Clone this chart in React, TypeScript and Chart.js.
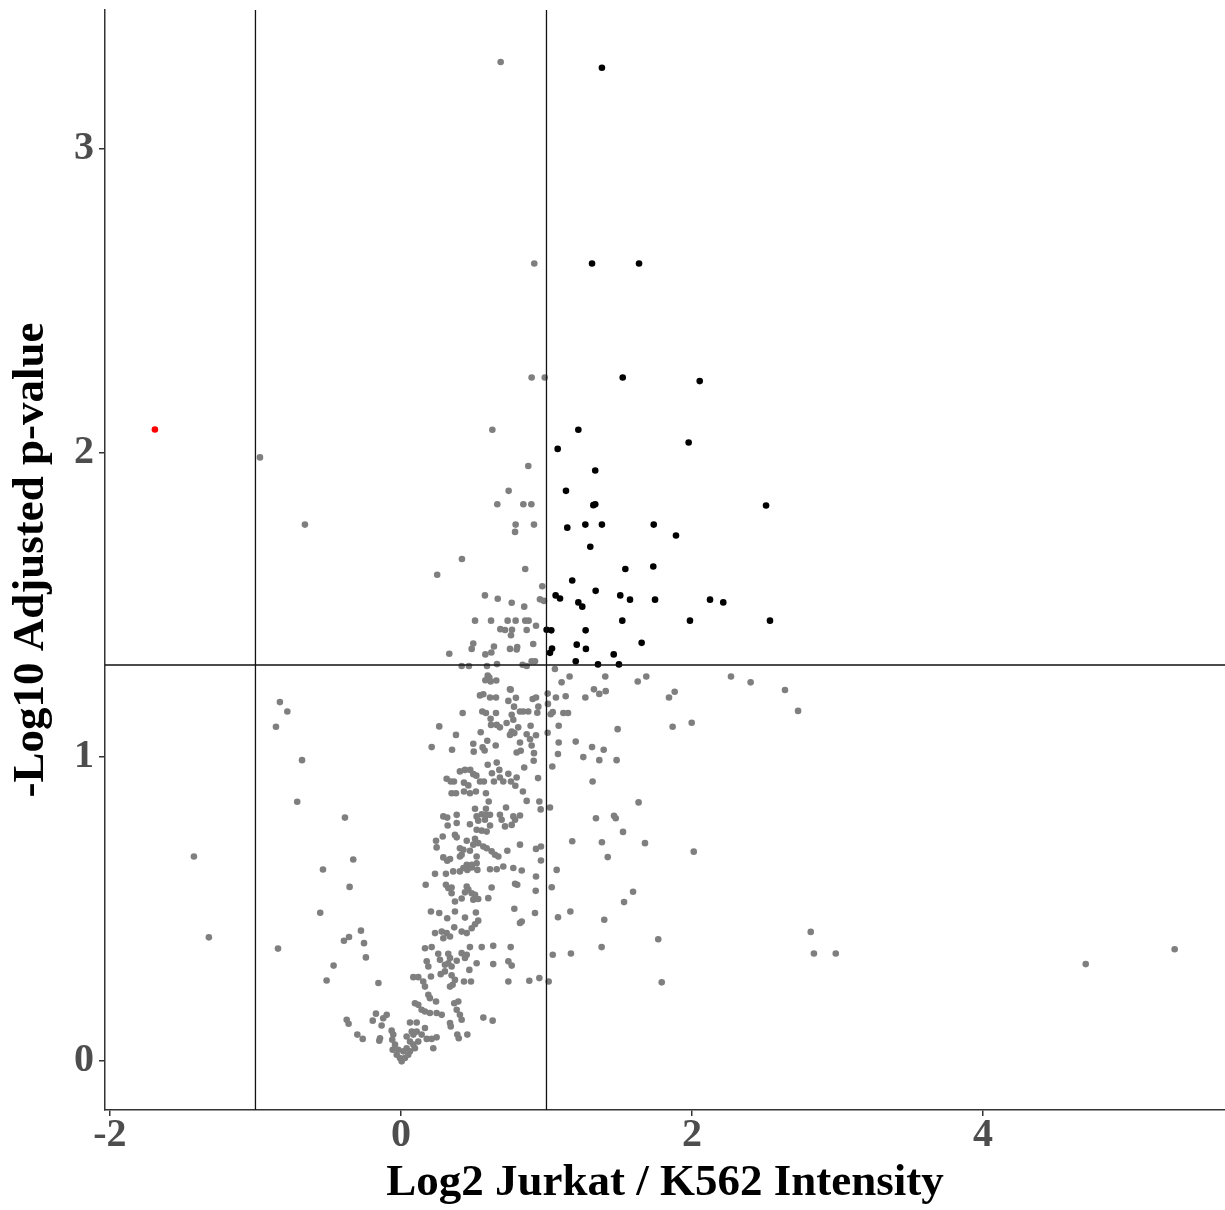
import React, { useEffect, useRef } from "react";
import { Chart, registerables } from "chart.js";

Chart.register(...registerables);

// Axis settings
const xTickValues = [-2, 0, 2, 4];
const yTickValues = [0, 1, 2, 3];
const xRange = [-2.034, 5.663];
const yRange = [-0.163, 3.456];
const foldChangeCutoffs = [-1, 1];
const pValueCutoff = 1.301; // -log10(0.05)

const xTitle = "Log2 Jurkat / K562 Intensity";
const yTitle = "-Log10 Adjusted p-value";

// Significantly down (red)
const downPoints: [number, number][] = [[-1.691, 2.076]];

// Significantly up (black)
const upPoints: [number, number][] = [
  [1.381, 3.266], [1.313, 2.622], [1.636, 2.622], [1.524, 2.247], [2.053, 2.235],
  [1.219, 2.075], [1.977, 2.033], [1.077, 2.012], [1.335, 1.941], [1.134, 1.874],
  [1.322, 1.827], [1.335, 1.830], [2.509, 1.826], [1.143, 1.753], [1.267, 1.763],
  [1.381, 1.763], [1.737, 1.763], [1.890, 1.727], [1.301, 1.690], [1.542, 1.617],
  [1.734, 1.625], [1.177, 1.579], [1.338, 1.545], [1.063, 1.530], [1.093, 1.520],
  [1.507, 1.530], [1.574, 1.516], [1.746, 1.516], [2.124, 1.516], [2.215, 1.507],
  [1.219, 1.507], [1.246, 1.493], [1.521, 1.447], [1.986, 1.447], [2.536, 1.447],
  [1.001, 1.417], [1.033, 1.415], [1.269, 1.415], [1.654, 1.374], [1.208, 1.368],
  [1.271, 1.354], [1.038, 1.355], [1.024, 1.341], [1.462, 1.336], [1.201, 1.313],
  [1.354, 1.303], [1.498, 1.303],
];

// Not significant (grey)
const nsPoints: [number, number][] = [
  [0.685, 3.285], [0.916, 2.622], [0.898, 2.247], [0.988, 2.247], [0.628, 2.075], [-0.969, 1.984], [-0.660, 1.763],
  [0.875, 1.956], [0.740, 1.874], [0.662, 1.830], [0.841, 1.830], [0.896, 1.830], [0.788, 1.763], [0.784, 1.739],
  [0.914, 1.763], [0.419, 1.650], [0.854, 1.617], [0.249, 1.598], [0.971, 1.560], [0.577, 1.530], [0.665, 1.519],
  [0.761, 1.506], [0.847, 1.493], [0.955, 1.517], [0.983, 1.512],
  [0.509, 1.447], [0.619, 1.447], [0.733, 1.447], [0.788, 1.447], [0.854, 1.447], [0.877, 1.447], [0.928, 1.430],
  [0.683, 1.419], [0.715, 1.416], [0.763, 1.417], [0.864, 1.416], [0.756, 1.399], [0.497, 1.372], [0.486, 1.354],
  [0.639, 1.362], [0.909, 1.370], [0.332, 1.338], [0.580, 1.336], [0.621, 1.342], [0.749, 1.354], [0.799, 1.360],
  [0.795, 1.352], [0.898, 1.313], [0.921, 1.313], [0.417, 1.298], [0.467, 1.298], [0.591, 1.298], [0.660, 1.304],
  [0.836, 1.302], [0.864, 1.298],
  [1.058, 1.288], [0.596, 1.266], [0.607, 1.260], [0.580, 1.251], [0.616, 1.247], [0.655, 1.250], [0.749, 1.221],
  [1.008, 1.207], [1.104, 1.244], [1.159, 1.263], [1.404, 1.263], [1.326, 1.221], [1.363, 1.206], [1.407, 1.215],
  [1.267, 1.194], [1.132, 1.198], [1.065, 1.194],
  [0.543, 1.201], [0.566, 1.205], [0.612, 1.194], [0.653, 1.194], [0.754, 1.220], [0.738, 1.183], [0.790, 1.193],
  [0.777, 1.164], [0.905, 1.189], [0.928, 1.194], [0.944, 1.164], [0.875, 1.148], [0.841, 1.148], [0.937, 1.144],
  [1.010, 1.173], [1.043, 1.146], [1.029, 1.139], [1.116, 1.143], [1.148, 1.143],
  [0.424, 1.143], [0.559, 1.148], [0.584, 1.143], [0.653, 1.143], [0.616, 1.124], [0.619, 1.104], [0.658, 1.104],
  [0.680, 1.096], [0.726, 1.110], [0.761, 1.137], [0.772, 1.121], [0.806, 1.096], [0.818, 1.148], [0.891, 1.101],
  [0.864, 1.073], [0.761, 1.082], [0.749, 1.071], [0.779, 1.077], [0.928, 1.070], [1.008, 1.078], [1.084, 1.101],
  [0.263, 1.099], [0.378, 1.071], [0.211, 1.031], [0.351, 1.022], [0.497, 1.042], [0.500, 1.016], [0.548, 1.080],
  [0.593, 1.052], [0.561, 1.030], [0.575, 1.020], [0.651, 1.036], [0.818, 1.046], [0.795, 1.013], [0.823, 1.019],
  [0.887, 1.057], [0.898, 1.036], [0.914, 1.011], [0.912, 0.986], [1.084, 1.046], [1.079, 1.008], [1.201, 1.049],
  [1.313, 1.031], [1.363, 0.988], [1.393, 1.022], [1.482, 0.988], [1.489, 1.090], [1.253, 0.998], [1.040, 0.967],
  [0.847, 0.964], [0.658, 0.980], [0.596, 0.973],
  [0.676, 0.956], [0.625, 0.945], [0.680, 0.931], [0.639, 0.918], [0.703, 0.918], [0.738, 0.943], [0.795, 0.931],
  [0.756, 0.918], [0.786, 0.904], [0.838, 0.885], [0.942, 0.929], [0.864, 0.854], [0.951, 0.852], [0.960, 0.826],
  [1.024, 0.832], [1.317, 0.918], [1.340, 0.797], [1.476, 0.797],
  [0.314, 0.927], [0.342, 0.918], [0.364, 0.918], [0.405, 0.951], [0.440, 0.956], [0.476, 0.956], [0.497, 0.942],
  [0.518, 0.937], [0.433, 0.914], [0.463, 0.905], [0.543, 0.918], [0.570, 0.918], [0.348, 0.879], [0.378, 0.879],
  [0.433, 0.885], [0.474, 0.879], [0.515, 0.885], [0.584, 0.879], [0.603, 0.852], [0.509, 0.828], [0.584, 0.828],
  [0.722, 0.832], [0.291, 0.803], [0.383, 0.808], [0.520, 0.803], [0.589, 0.808],
  [0.318, 0.799], [0.555, 0.810], [0.612, 0.808], [0.680, 0.808], [0.772, 0.803], [0.818, 0.806], [0.692, 0.792],
  [0.784, 0.792], [0.321, 0.773], [0.383, 0.781], [0.474, 0.777], [0.531, 0.789], [0.577, 0.792], [0.612, 0.773],
  [0.715, 0.770], [0.761, 0.775], [0.520, 0.759], [0.555, 0.756], [0.589, 0.753],
  [0.241, 0.723], [0.245, 0.701], [0.287, 0.737], [0.371, 0.742], [0.383, 0.734], [0.452, 0.723], [0.509, 0.729],
  [0.531, 0.715], [0.497, 0.710], [0.405, 0.698], [0.429, 0.693], [0.474, 0.690], [0.566, 0.704], [0.589, 0.698],
  [0.623, 0.688], [0.646, 0.677], [0.669, 0.671], [0.731, 0.690], [0.818, 0.710], [0.928, 0.696], [0.962, 0.704],
  [0.291, 0.668], [0.318, 0.657], [0.337, 0.663], [0.405, 0.671], [0.417, 0.677], [0.520, 0.671], [0.452, 0.644],
  [0.486, 0.644], [0.520, 0.649], [0.456, 0.627], [0.486, 0.635], [0.525, 0.627], [0.429, 0.633], [0.405, 0.622],
  [0.612, 0.629], [0.658, 0.629], [0.703, 0.638], [0.772, 0.633], [0.830, 0.625], [0.234, 0.614], [0.309, 0.614],
  [0.359, 0.622], [0.928, 0.605], [0.962, 0.658], [1.070, 0.627],
  [0.784, 0.581], [0.799, 0.578], [0.926, 0.558], [1.036, 0.570], [0.170, 0.578], [0.309, 0.578], [0.325, 0.567],
  [0.348, 0.569], [0.348, 0.550], [0.371, 0.523], [0.452, 0.572], [0.463, 0.562], [0.486, 0.550], [0.509, 0.545],
  [0.497, 0.529], [0.531, 0.531], [0.440, 0.553], [0.417, 0.533], [0.623, 0.569], [0.600, 0.534],
  [0.206, 0.490], [0.263, 0.485], [0.318, 0.468], [0.371, 0.490], [0.440, 0.470], [0.515, 0.487], [0.531, 0.460],
  [0.779, 0.499], [0.830, 0.457], [0.818, 0.452], [0.921, 0.485], [1.079, 0.471], [1.164, 0.490], [1.397, 0.463],
  [0.234, 0.419], [0.280, 0.424], [0.314, 0.419], [0.337, 0.408], [0.291, 0.402], [0.366, 0.438], [0.417, 0.424],
  [0.452, 0.419], [0.486, 0.435], [0.509, 0.448],
  [0.165, 0.369], [0.211, 0.373], [0.256, 0.351], [0.268, 0.331], [0.325, 0.351], [0.337, 0.337], [0.474, 0.373],
  [0.555, 0.373], [0.634, 0.377], [0.754, 0.373], [0.417, 0.353], [0.452, 0.348], [0.440, 0.337],
  [0.177, 0.326], [0.188, 0.309], [0.302, 0.315], [0.325, 0.320], [0.348, 0.309], [0.383, 0.328], [0.520, 0.320],
  [0.634, 0.317], [0.738, 0.326], [0.761, 0.312], [1.043, 0.348], [1.168, 0.352], [1.379, 0.373],
  [0.273, 0.284], [0.302, 0.293], [0.348, 0.280], [0.371, 0.265], [0.337, 0.243], [0.355, 0.249], [0.085, 0.274],
  [0.119, 0.274], [0.153, 0.260], [0.165, 0.243], [0.206, 0.276], [0.433, 0.260], [0.470, 0.298], [0.481, 0.260],
  [0.738, 0.260], [0.882, 0.262], [0.951, 0.271], [1.015, 0.260],
  [0.188, 0.216], [0.199, 0.205], [0.241, 0.194], [0.096, 0.188], [0.119, 0.183], [0.142, 0.167], [0.165, 0.161],
  [0.199, 0.156], [0.245, 0.156], [0.280, 0.150], [0.366, 0.188], [0.394, 0.194], [0.383, 0.167], [0.405, 0.150],
  [0.417, 0.134], [0.337, 0.123], [0.342, 0.112], [0.566, 0.141], [0.630, 0.131], [0.387, 0.085], [0.397, 0.073],
  [0.456, 0.085],
  [-0.172, 0.154], [-0.194, 0.131], [-0.122, 0.139], [-0.098, 0.150], [-0.133, 0.115], [-0.263, 0.071],
  [-0.144, 0.073], [-0.149, 0.065],
  [-0.064, 0.098], [-0.053, 0.085], [-0.060, 0.068], [-0.041, 0.052], [-0.057, 0.035], [-0.029, 0.019],
  [-0.007, 0.008], [0.005, -0.003], [0.027, 0.008], [0.050, 0.019], [0.039, 0.040], [0.062, 0.062], [0.085, 0.085],
  [0.108, 0.095], [0.142, 0.085], [0.165, 0.107], [0.177, 0.071], [0.211, 0.071], [0.245, 0.076], [0.222, 0.040],
  [0.096, 0.040], [0.062, 0.030], [0.085, 0.052], [0.119, 0.062], [0.016, 0.030], [-0.018, 0.035], [0.039, 0.079],
  [0.074, 0.095],
  [-0.155, 0.255], [-0.254, 0.386], [-0.241, 0.339],
  [-0.832, 1.179], [-0.781, 1.148], [-0.859, 1.098], [-0.680, 0.988], [-0.713, 0.851], [-0.385, 0.799],
  [-0.328, 0.661], [-0.536, 0.628], [-0.353, 0.571], [-0.555, 0.486], [-0.845, 0.368], [-0.275, 0.427],
  [-0.357, 0.406], [-0.392, 0.394], [-0.463, 0.312], [-0.511, 0.263], [-0.373, 0.134], [-0.360, 0.121],
  [-0.300, 0.085], [0.062, 0.125], [0.108, 0.125], [-1.423, 0.671], [-1.320, 0.405],
  [1.627, 1.247], [1.686, 1.263], [2.268, 1.263], [2.403, 1.244], [2.639, 1.219], [2.729, 1.150], [1.842, 1.194],
  [1.881, 1.213], [1.867, 1.098], [1.998, 1.111], [1.633, 0.849], [1.464, 0.805], [1.526, 0.752], [1.177, 0.721],
  [1.381, 0.718], [1.677, 0.715], [2.012, 0.687], [1.421, 0.669], [1.595, 0.555], [1.533, 0.521], [1.768, 0.399],
  [2.816, 0.423], [2.838, 0.352], [2.988, 0.352], [1.792, 0.257], [4.706, 0.317], [5.317, 0.366],
];

const toXY = (arr: [number, number][]) => arr.map(([x, y]) => ({ x, y }));

export default function App() {
  const ref = useRef<HTMLCanvasElement>(null);

  useEffect(() => {
    if (!ref.current) return;
    const tickFont = { family: "'Liberation Serif', 'Times New Roman', serif", size: 40, weight: "bold" as const, lineHeight: 1 };
    const titleFont = { family: "'Liberation Serif', 'Times New Roman', serif", size: 45, weight: "bold" as const, lineHeight: 1 };
    const lineColor = "#111111";

    const cutoffLines: any[] = [
      ...foldChangeCutoffs.map((c) => ({
        type: "line",
        label: `fc ${c}`,
        data: [{ x: c, y: yRange[0] }, { x: c, y: yRange[1] }],
        borderColor: lineColor,
        borderWidth: 1.3,
        pointRadius: 0,
        fill: false,
        order: 0,
      })),
      {
        type: "line",
        label: "p cutoff",
        data: [{ x: xRange[0], y: pValueCutoff }, { x: xRange[1], y: pValueCutoff }],
        borderColor: lineColor,
        borderWidth: 1.3,
        pointRadius: 0,
        fill: false,
        order: 0,
      },
    ];

    const chart = new Chart(ref.current, {
      type: "scatter",
      data: {
        datasets: [
          ...cutoffLines,
          { label: "down", data: toXY(downPoints), backgroundColor: "#ff0000", pointRadius: 3.3, borderWidth: 0, order: 1 },
          { label: "up", data: toXY(upPoints), backgroundColor: "#000000", pointRadius: 3.3, borderWidth: 0, order: 2 },
          { label: "ns", data: toXY(nsPoints), backgroundColor: "#7f7f7f", pointRadius: 3.3, borderWidth: 0, order: 3 },
        ],
      },
      options: {
        animation: false,
        responsive: false,
        maintainAspectRatio: false,
        layout: { autoPadding: false, padding: { top: 10, right: 0, left: 0, bottom: 0 } },
        plugins: { legend: { display: false }, tooltip: { enabled: false } },
        scales: {
          x: {
            type: "linear",
            min: xRange[0],
            max: xRange[1],
            afterBuildTicks: (s: any) => {
              s.ticks = xTickValues.map((v) => ({ value: v }));
            },
            afterFit: (s: any) => {
              s.height = 100;
              s.paddingLeft = 0;
              s.paddingRight = 0;
            },
            grid: { display: true, drawOnChartArea: false, drawTicks: true, tickLength: 6, color: "#333333", lineWidth: 1.5 },
            border: { display: true, color: "#333333", width: 1.5 },
            ticks: { color: "#4d4d4d", font: tickFont, padding: 0, maxRotation: 0, autoSkip: false },
            title: { display: true, text: xTitle, color: "#000000", font: titleFont, padding: { top: 0, bottom: 4.5 } },
          },
          y: {
            type: "linear",
            min: yRange[0],
            max: yRange[1],
            afterBuildTicks: (s: any) => {
              s.ticks = yTickValues.map((v) => ({ value: v }));
            },
            afterFit: (s: any) => {
              s.width = 105;
              s.paddingTop = 0;
              s.paddingBottom = 0;
            },
            grid: { display: true, drawOnChartArea: false, drawTicks: true, tickLength: 6, color: "#333333", lineWidth: 1.5 },
            border: { display: true, color: "#333333", width: 1.5 },
            ticks: { color: "#4d4d4d", font: tickFont, padding: 5, autoSkip: false },
            title: { display: true, text: yTitle, color: "#000000", font: titleFont, padding: { top: 8.5, bottom: 0 } },
          },
        },
      } as any,
    });
    return () => chart.destroy();
  }, []);

  return (
    <div style={{ position: "fixed", left: 0, top: 0, width: 1225, height: 1210, background: "#ffffff" }}>
      <canvas ref={ref} width={1225} height={1210} style={{ display: "block", width: 1225, height: 1210 }} />
    </div>
  );
}
